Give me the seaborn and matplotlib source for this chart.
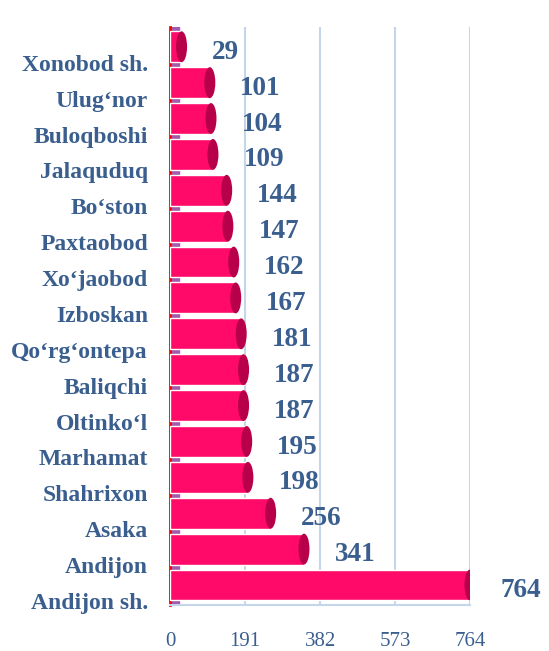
import matplotlib
matplotlib.use("Agg")
import matplotlib.pyplot as plt
import matplotlib.transforms as mtransforms
import seaborn as sns
import pandas as pd
from matplotlib.patches import Ellipse

# data (top to bottom)
districts = ["Xonobod sh.", "Ulug\u2018nor", "Buloqboshi", "Jalaquduq", "Bo\u2018ston",
             "Paxtaobod", "Xo\u2018jaobod", "Izboskan", "Qo\u2018rg\u2018ontepa", "Baliqchi",
             "Oltinko\u2018l", "Marhamat", "Shahrixon", "Asaka", "Andijon", "Andijon sh."]
counts = [29, 101, 104, 109, 144, 147, 162, 167, 181, 187, 187, 195, 198, 256, 341, 764]
ticks = [0, 191, 382, 573, 764]

df = pd.DataFrame({"district": districts, "count": counts})

sns.set_style("white")
plt.rcParams["font.family"] = ["Liberation Serif", "DejaVu Serif"]

txt = "#3A5F8F"
bar_col = "#FF0A68"
cap_col = "#B8004A"
grid_col = "#C5D5EA"

fig, ax = plt.subplots(figsize=(5.49, 6.51), dpi=100)
fig.subplots_adjust(left=0.31, right=0.856, top=0.9585, bottom=0.0711)

# purple side wall
ax.axvspan(0, 22, color="#A35AAE", zorder=1)

sns.barplot(data=df, x="count", y="district", orient="h", color=bar_col,
            saturation=1, width=0.86, ax=ax, zorder=3)

# cylinder end caps
for i, v in enumerate(counts):
    ax.add_patch(Ellipse((v, i), width=28, height=0.86, facecolor=cap_col,
                         edgecolor="none", zorder=4))

# value labels
for i, v in enumerate(counts):
    ax.annotate(str(v), xy=(v, i), xytext=(22, -4), textcoords="offset points",
                ha="left", va="center", fontsize=19.5, fontweight="bold", color=txt)

ax.set_xlim(0, 764)
ax.set_ylim(15.55, -0.55)
ax.set_xticks(ticks)
ax.set_xticklabels([str(t) for t in ticks], fontsize=15, color=txt)
ax.tick_params(axis="x", length=0, pad=20)
ax.tick_params(axis="y", length=0, pad=16)
shift = mtransforms.ScaledTranslation(0, -16 / 100, fig.dpi_scale_trans)
for lbl in ax.get_yticklabels():
    lbl.set_fontsize(17)
    lbl.set_fontweight("bold")
    lbl.set_color(txt)
    lbl.set_transform(lbl.get_transform() + shift)

ax.set_xlabel("")
ax.set_ylabel("")
ax.grid(axis="x", color=grid_col, linewidth=1.5, zorder=0)
for s in ["top", "right"]:
    ax.spines[s].set_visible(False)
ax.spines["bottom"].set_color(grid_col)
ax.spines["bottom"].set_linewidth(1.5)
ax.spines["left"].set_color("#FF0000")
ax.spines["left"].set_linewidth(2)

fig.savefig("out.png", dpi=100)
